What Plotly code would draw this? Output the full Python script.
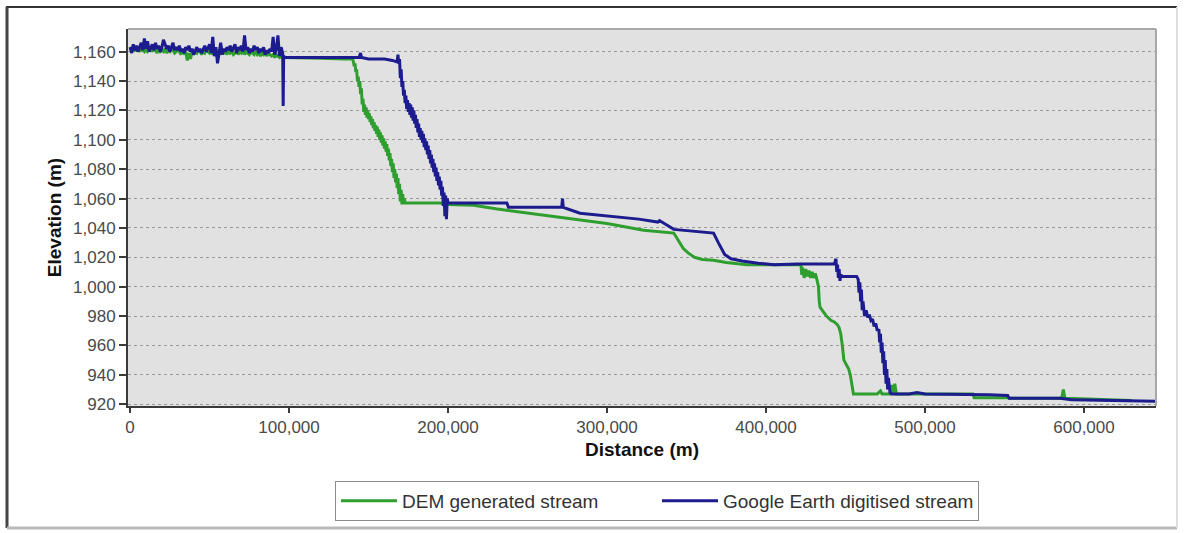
import plotly.graph_objects as go

# ---------------- data (distance in m, elevation in m) ----------------
dem_x = [0, 1000, 2000, 3000, 4000, 5000, 6000, 7000, 8000, 9000,
         10000, 11000, 12000, 13000, 14000, 15000, 16000, 17000, 18000, 19000,
         20000, 21000, 22000, 23000, 24000, 25000, 26000, 27000, 28000, 29000,
         30000, 31000, 32000, 33000, 34000, 35000, 36000, 37000, 38000, 39000,
         40000, 41000, 42000, 43000, 44000, 45000, 46000, 47000, 48000, 49000,
         50000, 51000, 52000, 53000, 54000, 55000, 56000, 57000, 58000, 59000,
         60000, 61000, 62000, 63000, 64000, 65000, 66000, 67000, 68000, 69000,
         70000, 71000, 72000, 73000, 74000, 75000, 76000, 77000, 78000, 79000,
         80000, 81000, 82000, 83000, 84000, 85000, 86000, 87000, 88000, 89000,
         90000, 91000, 92000, 93000, 94000, 95000, 96000, 97000,
         100000, 120000, 135000,
         140000, 140500, 141000, 141500, 142000, 142500, 143000, 143500, 144000, 144500,
         145000, 145500, 146000, 146500, 147000, 147500, 148000, 148500, 149000, 149500,
         150000, 150500, 151000, 151500, 152000, 152500, 153000, 153500, 154000, 154500,
         155000, 155500, 156000, 156500, 157000, 157500, 158000, 158500, 159000, 159500,
         160000, 160500, 161000, 161500, 162000, 162500, 163000, 163500, 164000, 164500,
         165000, 165500, 166000, 166500, 167000, 167500, 168000, 168500, 169000, 169500,
         170000, 170500, 171000, 171500, 172000, 172500, 173000, 176000, 195000,
         200000, 216000, 230000, 252000, 283000, 300000, 323000, 342000, 344000, 348000,
         351000, 355000, 360000, 367000, 375000, 388000, 405000,
         422000, 422500, 423000, 424000, 425000, 426000, 427000, 428000, 429000, 430000,
         431000, 432000, 433000, 433500, 434000, 436000, 438000, 440000, 441000, 443000,
         445000, 446000, 447000, 448000, 449000, 450000, 451000, 452000, 453000, 454000,
         455000, 470000, 472000, 473000, 478000, 479000, 480000,
         481000, 482000, 530000, 531000, 552000, 553000, 586000, 587000, 588000, 620000,
         630000]
dem_y = [1161, 1163, 1160, 1162, 1161, 1163, 1160, 1162, 1161, 1160,
         1162, 1160, 1161, 1163, 1160, 1162, 1161, 1159, 1162, 1160,
         1161, 1160, 1162, 1159, 1161, 1160, 1162, 1161, 1159, 1160,
         1161, 1160, 1158, 1161, 1159, 1160, 1154, 1159, 1155, 1160,
         1158, 1160, 1159, 1161, 1160, 1158, 1160, 1159, 1161, 1160,
         1159, 1161, 1158, 1160, 1157, 1159, 1161, 1158, 1160, 1159,
         1160, 1158, 1161, 1159, 1160, 1158, 1159, 1161, 1158, 1160,
         1159, 1161, 1158, 1160, 1159, 1158, 1160, 1159, 1158, 1160,
         1158, 1159, 1157, 1159, 1158, 1160, 1157, 1159, 1158, 1157,
         1158, 1156, 1158, 1157, 1156, 1157, 1156, 1156,
         1156, 1155.5, 1155,
         1155, 1153, 1150, 1152, 1146, 1148, 1140, 1143, 1136, 1140,
         1131, 1135, 1124, 1128, 1119, 1124, 1117, 1122, 1115, 1120,
         1114, 1118, 1112, 1116, 1110, 1114, 1108, 1112, 1106, 1110,
         1104, 1109, 1102, 1107, 1100, 1105, 1098, 1103, 1096, 1101,
         1094, 1099, 1092, 1097, 1089, 1094, 1086, 1091, 1082, 1087,
         1078, 1084, 1074, 1080, 1071, 1077, 1067, 1074, 1063, 1070,
         1058, 1066, 1056, 1063, 1056, 1060, 1057, 1057, 1057,
         1056, 1055.5, 1053, 1050, 1045.5, 1043, 1038.5, 1036.5, 1033, 1026,
         1023, 1020, 1018.5, 1018, 1016.5, 1015, 1015,
         1015, 1008, 1013, 1006, 1012, 1007, 1011, 1006, 1010, 1006,
         1009, 1005, 1000, 990, 986, 983, 980, 978, 977, 976,
         974, 972, 968, 960, 950, 948, 946, 944, 940, 933,
         927, 927, 929, 927, 927, 933, 927,
         934, 927, 927, 924.5, 924.5, 924, 924, 930, 924, 923,
         922.5]

ge_x = [0, 1000, 2000, 3000, 4000, 5000, 6000, 7000, 8000, 9000,
        10000, 11000, 12000, 13000, 14000, 15000, 16000, 17000, 18000, 19000,
        20000, 21000, 22000, 23000, 24000, 25000, 26000, 27000, 28000, 29000,
        30000, 31000, 32000, 33000, 34000, 35000, 36000, 37000, 38000, 39000,
        40000, 41000, 42000, 43000, 44000, 45000, 46000, 47000, 48000, 49000,
        50000, 51000, 52000, 53000, 54000, 55000, 56000, 57000, 58000, 59000,
        60000, 61000, 62000, 63000, 64000, 65000, 66000, 67000, 68000, 69000,
        70000, 71000, 72000, 73000, 74000, 75000, 76000, 77000, 78000, 79000,
        80000, 81000, 82000, 83000, 84000, 85000, 86000, 87000, 88000, 89000,
        90000, 91000, 92000, 93000, 94000, 95000, 96000, 96300, 96600, 97500,
        100000, 120000, 140000, 144000, 145000, 145500, 150000, 160000, 165000,
        168000, 168500, 169000, 169500, 170000, 170500, 171000, 171500, 172000, 172500,
        173000, 173500, 174000, 174500, 175000, 175500, 176000, 176500, 177000, 177500,
        178000, 178500, 179000, 179500, 180000, 180500, 181000, 181500, 182000, 182500,
        183000, 183500, 184000, 184500, 185000, 185500, 186000, 186500, 187000, 187500,
        188000, 188500, 189000, 189500, 190000, 190500, 191000, 191500, 192000, 192500,
        193000, 193500, 194000, 194500, 195000, 195500, 196000, 196500, 197000, 197500,
        198000, 198500, 199000, 199500, 200000,
        210000, 237000, 238000, 270000, 271500, 272000, 272500, 283000, 300000, 320000,
        332000, 333000, 342000, 360000, 367000, 370000, 374000, 378000, 385000, 395000,
        405000, 420000,
        443000, 444000, 444500, 445000, 445500, 446000, 446500, 447000, 448000, 457000,
        458000, 458500, 459000, 459500, 460000, 460500, 461000, 462000, 463000, 464000,
        465000, 466000, 467000, 468000, 469000, 470000, 471000, 471500, 472000, 472500,
        473000, 473500, 474000, 474500, 475000, 475500, 476000, 476500, 477000, 478000,
        479000, 490000, 495000, 500000, 520000, 540000,
        552000, 553000, 570000, 585000, 592000, 610000, 645000]
ge_y = [1163, 1159, 1165, 1161, 1164, 1160, 1163, 1166, 1161, 1169,
        1162, 1167, 1160, 1163, 1165, 1161, 1166, 1162, 1164, 1160,
        1163, 1168, 1165, 1162, 1164, 1160, 1163, 1166, 1161, 1163,
        1161, 1164, 1160, 1162, 1159, 1163, 1161, 1164, 1160, 1162,
        1158, 1161, 1163, 1160, 1162, 1159, 1161, 1164, 1160, 1162,
        1165, 1159, 1170, 1157, 1163, 1152, 1161, 1166, 1158, 1162,
        1160, 1163, 1161, 1164, 1160, 1162, 1165, 1159, 1163, 1161,
        1164, 1160, 1171, 1161, 1163, 1159, 1162, 1160, 1164, 1161,
        1163, 1159, 1162, 1160, 1163, 1158, 1161, 1159, 1162, 1160,
        1170, 1158, 1162, 1171, 1157, 1163, 1159, 1123, 1157, 1156,
        1156, 1156, 1155.5, 1156, 1159, 1156, 1155, 1155, 1154,
        1153, 1158, 1152, 1155, 1142, 1148, 1136, 1140, 1130, 1134,
        1125, 1130, 1121, 1127, 1119, 1125, 1117, 1124, 1115, 1122,
        1113, 1120, 1111, 1117, 1108, 1114, 1105, 1111, 1102, 1108,
        1100, 1106, 1098, 1104, 1095, 1101, 1093, 1099, 1090, 1096,
        1087, 1093, 1084, 1090, 1081, 1087, 1078, 1084, 1075, 1081,
        1072, 1078, 1069, 1075, 1066, 1072, 1062, 1068, 1055, 1064,
        1048, 1062, 1046, 1060, 1057,
        1057, 1057, 1054, 1054, 1054, 1060, 1054, 1050, 1048, 1046,
        1044, 1045, 1039, 1037, 1036.5, 1030, 1022, 1019, 1017.5, 1016,
        1015, 1015.5,
        1015.5, 1019, 1010, 1015, 1006, 1012, 1004, 1008, 1007, 1007,
        1005, 996, 1003, 990, 998, 984, 990, 980, 984, 979,
        981, 977, 978, 973, 975, 970, 971, 962, 968, 955,
        962, 948, 956, 940, 950, 934, 944, 930, 938, 928,
        927, 927, 928, 927, 927, 926.5,
        926, 924, 924, 924, 923, 922.5, 922]

series_names = ["DEM generated stream", "Google Earth digitised stream"]
series_colors = ["#2e9e2e", "#1c1c8e"]

x_ticks = [0, 100000, 200000, 300000, 400000, 500000, 600000]
x_tick_labels = ["0", "100,000", "200,000", "300,000", "400,000", "500,000", "600,000"]
y_ticks = [920, 940, 960, 980, 1000, 1020, 1040, 1060, 1080, 1100, 1120, 1140, 1160]
y_tick_labels = ["920", "940", "960", "980", "1,000", "1,020", "1,040", "1,060",
                 "1,080", "1,100", "1,120", "1,140", "1,160"]

# ---------------- figure ----------------
W, H = 1187, 533
ML, MR, MT, MB = 128, 31, 29, 127
PW, PH = W - ML - MR, H - MT - MB


def px_x(p):
    return (p - ML) / PW


def px_y(p):
    return (H - MB - p) / PH


fig = go.Figure()
fig.add_trace(go.Scatter(x=dem_x, y=dem_y, mode="lines", name=series_names[0],
                         line=dict(color=series_colors[0], width=3)))
fig.add_trace(go.Scatter(x=ge_x, y=ge_y, mode="lines", name=series_names[1],
                         line=dict(color=series_colors[1], width=3)))

FONT = "Liberation Sans, Arial, sans-serif"
tick_font = dict(family=FONT, size=17, color="#4a4a4a")
title_font = dict(family=FONT, size=19, color="#111111")

fig.update_layout(
    width=W, height=H,
    margin=dict(l=ML, r=MR, t=MT, b=MB, pad=0),
    paper_bgcolor="white",
    plot_bgcolor="#e1e1e1",
    showlegend=True,
    legend=dict(
        orientation="h",
        x=px_x(335), y=px_y(481), xanchor="left", yanchor="top",
        bgcolor="white", bordercolor="#8c8c8c", borderwidth=1,
        font=dict(family=FONT, size=19, color="#333333"),
        itemwidth=56, entrywidth=250, traceorder="normal",
    ),
    xaxis=dict(
        range=[-1300, 645300],
        tickvals=x_ticks, ticktext=x_tick_labels,
        showgrid=False, zeroline=False,
        showline=True, linecolor="#3a3a3a", linewidth=2,
        ticks="outside", ticklen=5, tickcolor="#3a3a3a", tickwidth=1.5,
        tickfont=tick_font,
        title=dict(text="<b>Distance (m)</b>", font=title_font, standoff=6),
    ),
    yaxis=dict(
        range=[918.8, 1175.4],
        tickvals=y_ticks, ticktext=y_tick_labels,
        showgrid=True, gridcolor="#9a9a9a", gridwidth=1, griddash="dot",
        zeroline=False,
        showline=True, linecolor="#3a3a3a", linewidth=2,
        ticks="outside", ticklen=7, tickcolor="#3a3a3a", tickwidth=1.5,
        tickfont=tick_font,
        title=dict(text="<b>Elevation (m)</b>", font=title_font, standoff=6),
    ),
    shapes=[
        # plot area border top / right
        dict(type="line", xref="paper", yref="paper", x0=0, x1=1, y0=1, y1=1,
             line=dict(color="#a8a8a8", width=2)),
        dict(type="line", xref="paper", yref="paper", x0=1, x1=1, y0=0, y1=1,
             line=dict(color="#a8a8a8", width=2)),
        # outer frame
        dict(type="line", xref="paper", yref="paper", x0=px_x(6), x1=px_x(1177),
             y0=px_y(7), y1=px_y(7), line=dict(color="#333333", width=2)),
        dict(type="line", xref="paper", yref="paper", x0=px_x(7), x1=px_x(7),
             y0=px_y(7), y1=px_y(528), line=dict(color="#444444", width=3)),
        dict(type="line", xref="paper", yref="paper", x0=px_x(7), x1=px_x(1177),
             y0=px_y(528), y1=px_y(528), line=dict(color="#b8b8b8", width=3)),
        dict(type="line", xref="paper", yref="paper", x0=px_x(1177), x1=px_x(1177),
             y0=px_y(7), y1=px_y(528), line=dict(color="#dddddd", width=2)),
    ],
)

fig.write_html("out.html")
